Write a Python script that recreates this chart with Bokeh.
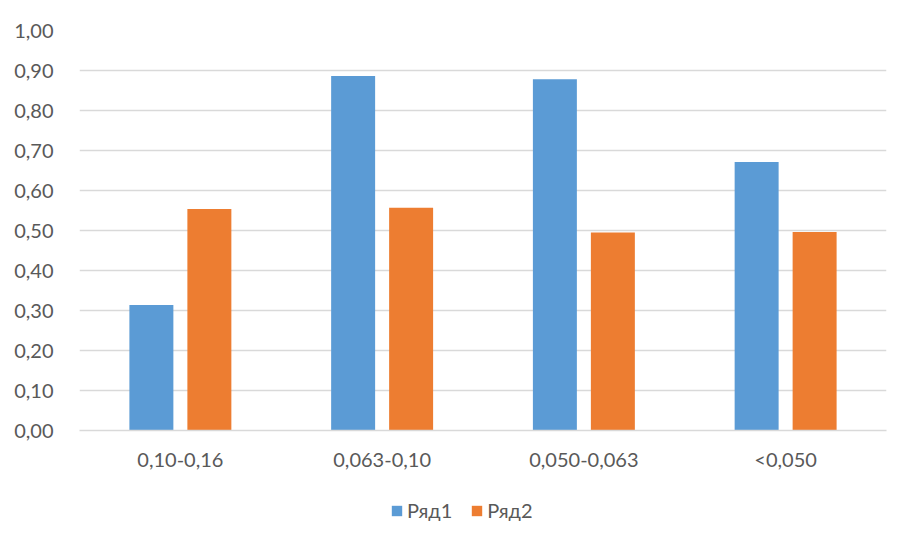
from bokeh.plotting import figure
from bokeh.models import FactorRange, Range1d, FixedTicker, Legend, LegendItem, ColumnDataSource
from bokeh.layouts import column
from bokeh.transform import dodge
from bokeh.embed import file_html
from bokeh.resources import INLINE

categories = ["0,10-0,16", "0,063-0,10", "0,050-0,063", "<0,050"]
series1 = [0.314, 0.886, 0.878, 0.671]
series2 = [0.554, 0.557, 0.495, 0.496]
series_names = ["Ряд1", "Ряд2"]
tick_values = [0.0, 0.1, 0.2, 0.3, 0.4, 0.5, 0.6, 0.7, 0.8, 0.9, 1.0]
tick_labels = ["0,00", "0,10", "0,20", "0,30", "0,40", "0,50", "0,60", "0,70", "0,80", "0,90", "1,00"]

BLUE = "#5B9BD5"
ORANGE = "#ED7D31"
GRID = "#D9D9D9"
TEXT = "#595959"
FONT = "Lato"
FS = "20px"

source = ColumnDataSource(dict(cat=categories, s1=series1, s2=series2))

p = figure(x_range=FactorRange(*categories), y_range=Range1d(0, 1.0),
           width=900, height=480, output_backend="svg", toolbar_location=None,
           min_border_left=79, min_border_right=14, min_border_top=30, min_border_bottom=50)
p.x_range.range_padding = 0
p.outline_line_color = None
p.background_fill_color = "white"
p.border_fill_color = "white"

r1 = p.vbar(x=dodge("cat", -0.1437, range=p.x_range), top="s1", width=0.218,
            source=source, fill_color=BLUE, line_color=None)
r2 = p.vbar(x=dodge("cat", 0.1437, range=p.x_range), top="s2", width=0.218,
            source=source, fill_color=ORANGE, line_color=None)

p.xgrid.grid_line_color = None
p.ygrid.grid_line_color = GRID
p.ygrid.grid_line_width = 1.5
p.yaxis.ticker = FixedTicker(ticks=tick_values)
p.yaxis.major_label_overrides = {v: l for v, l in zip(tick_values, tick_labels)}
p.yaxis.axis_line_color = None
p.yaxis.major_tick_line_color = None
p.yaxis.minor_tick_line_color = None
p.yaxis.major_label_standoff = 20

p.xaxis.axis_line_color = GRID
p.xaxis.axis_line_width = 1.5
p.xaxis.major_tick_line_color = None
p.xaxis.minor_tick_line_color = None
p.xaxis.major_label_standoff = 10

for ax in (p.xaxis[0], p.yaxis[0]):
    ax.major_label_text_font = FONT
    ax.major_label_text_font_size = FS
    ax.major_label_text_color = TEXT

# legend strip below the chart (its frame is aligned with the chart's frame)
lg = figure(width=900, height=51, output_backend="svg", toolbar_location=None,
            x_range=Range1d(0, 1), y_range=Range1d(0, 1),
            min_border=0, min_border_left=0, min_border_right=0,
            min_border_top=0, min_border_bottom=0)
lg.axis.visible = False
lg.grid.visible = False
lg.outline_line_color = None
lg.border_fill_color = "white"
lg.background_fill_color = "white"
swatch = ColumnDataSource(dict(x=[0.5], top=[0.0]))
lr1 = lg.vbar(x="x", top="top", width=0.0, source=swatch, fill_color=BLUE, line_color=None)
lr2 = lg.vbar(x="x", top="top", width=0.0, source=swatch, fill_color=ORANGE, line_color=None)

legend = Legend(items=[LegendItem(label=series_names[0], renderers=[lr1]),
                       LegendItem(label=series_names[1], renderers=[lr2])],
                orientation="horizontal", location=(311, 9),
                glyph_width=13, glyph_height=13, spacing=18, label_standoff=4,
                label_text_font=FONT, label_text_font_size=FS, label_text_color=TEXT,
                border_line_color=None, background_fill_alpha=0,
                padding=0, margin=0)
lg.add_layout(legend, "center")

layout = column(p, lg, spacing=0)
open("out.html", "w").write(file_html(layout, INLINE))
